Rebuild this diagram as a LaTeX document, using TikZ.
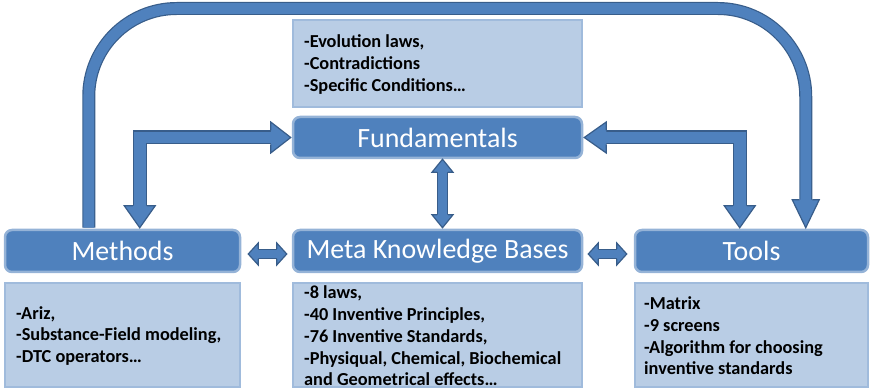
\documentclass[tikz,border=0pt]{standalone}
\usepackage{fontspec}
\setmainfont{Carlito}
\usetikzlibrary{calc}
\definecolor{afill}{HTML}{4F81BD}
\definecolor{aline}{HTML}{385D8A}
\definecolor{tbord}{HTML}{95B3D7}
\definecolor{tfill}{HTML}{B9CDE5}
\definecolor{tboxline}{HTML}{A0BBDC}
\newcommand\bhead[5]{%
  \begin{scope}[shift={(#1)}, rotate=#2]
    \fill[afill] (0,0) -- (-#5,#4) -- (-#5,-#4) -- cycle;
    \draw[aline, line width=1.2, line join=miter] (-#5,#3) -- (-#5,#4) -- (0,0) -- (-#5,-#4) -- (-#5,-#3);
  \end{scope}}
\tikzset{
  titlebox/.style={rectangle, rounded corners=7, fill=afill, draw=tbord, line width=2.5,
    text=white, font=\fontsize{27.9}{33}\selectfont, inner sep=0pt},
  listbox/.style={rectangle, fill=tfill, draw=tboxline, line width=2, inner sep=0pt},
  bodytext/.style={font=\bfseries\fontsize{18.3}{21.7}\selectfont, align=left, inner sep=0pt, text=black},
  shaft/.style={draw=aline, line width=1.2, double=afill, double distance=#1, line join=miter, line cap=butt},
}
\begin{document}
\begin{tikzpicture}[x=1pt, y=-1pt]
\useasboundingbox (0,0) rectangle (871,390);

% boxes (positions)
\node[titlebox, minimum width=235, minimum height=42] (meth) at (122.5,251) {Methods};
\node[titlebox, minimum width=289, minimum height=41] (fund) at (437.5,137.5) {Fundamentals};
\node[titlebox, minimum width=289, minimum height=42] (meta) at (437.5,251) {Meta Knowledge Bases};
\node[titlebox, minimum width=233, minimum height=42] (tools) at (751.5,251) {Tools};

\node[listbox, minimum width=235, minimum height=104] (methT) at (122.5,335) {};
\node[listbox, minimum width=289, minimum height=87] (fundT) at (437.5,63.5) {};
\node[listbox, minimum width=289, minimum height=104] (metaT) at (437.5,335) {};
\node[listbox, minimum width=233, minimum height=104] (toolsT) at (751.5,335) {};

\node[bodytext, anchor=west] (methL) at ($(methT.west)+(12,1)$) {-Ariz,\\-Substance-Field modeling,\\-DTC operators…};
\node[bodytext, anchor=west] (fundL) at ($(fundT.west)+(12,1)$) {-Evolution laws,\\-Contradictions\\-Specific Conditions…};
\node[bodytext, anchor=west] (metaL) at ($(metaT.west)+(12,1)$) {-8 laws,\\-40 Inventive Principles,\\-76 Inventive Standards,\\-Physiqual, Chemical, Biochemical\\and Geometrical effects…};
\node[bodytext, anchor=west] (toolsL) at ($(toolsT.west)+(10,1)$) {-Matrix\\-9 screens\\-Algorithm for choosing\\inventive standards};

% big loop arrow Methods -> Tools
\coordinate (loopA) at ($(meth.north west)+(85,-1)$);
\coordinate (loopB) at ($(tools.north west)+(172,-1)$);
\coordinate (top) at (0,8.5);
\draw[shaft=10.6, rounded corners=88] (loopA) -- (loopA |- top) -- (loopB |- top) -- ($(loopB)+(0,-27)$);
\bhead{loopB}{-90}{6.5}{13.5}{28}

% Fundamentals <-> Methods
\coordinate (mf) at ($(meth.north west)+(136,-1)$);
\coordinate (fw) at ($(fund.west)+(-1,0)$);
\draw[shaft=11.6] ($(mf)+(0,-21)$) -- (mf |- fw) -- ($(fw)+(-19,0)$);
\bhead{fw}{0}{7}{15.5}{20}
\bhead{mf}{-90}{7}{15.5}{22}

% Fundamentals <-> Tools
\coordinate (tf) at ($(tools.north west)+(106,-1)$);
\coordinate (fe) at ($(fund.east)+(1,0)$);
\draw[shaft=11.6] ($(tf)+(0,-21)$) -- (tf |- fe) -- ($(fe)+(21,0)$);
\bhead{fe}{180}{7}{15.5}{22}
\bhead{tf}{-90}{7}{15.5}{22}

% Fundamentals <-> Meta
\coordinate (fm1) at ($(fund.south)+(5,0)$);
\coordinate (fm2) at ($(meta.north)+(5,-1)$);
\draw[shaft=8.6] ($(fm1)+(0,12)$) -- ($(fm2)+(0,-12)$);
\bhead{fm1}{90}{5.5}{10.5}{13}
\bhead{fm2}{-90}{5.5}{10.5}{13}

% Methods <-> Meta
\coordinate (mm1) at ($(meth.east)+(7,3)$);
\coordinate (mm2) at ($(meta.west)+(-5,3)$);
\draw[shaft=7.6] ($(mm1)+(9,0)$) -- ($(mm2)+(-9,0)$);
\bhead{mm1}{180}{5}{11}{10}
\bhead{mm2}{0}{5}{11}{10}

% Meta <-> Tools
\coordinate (mt1) at ($(meta.east)+(5,3)$);
\coordinate (mt2) at ($(tools.west)+(-7,3)$);
\draw[shaft=7.6] ($(mt1)+(9,0)$) -- ($(mt2)+(-9,0)$);
\bhead{mt1}{180}{5}{11}{10}
\bhead{mt2}{0}{5}{11}{10}
\end{tikzpicture}
\end{document}
